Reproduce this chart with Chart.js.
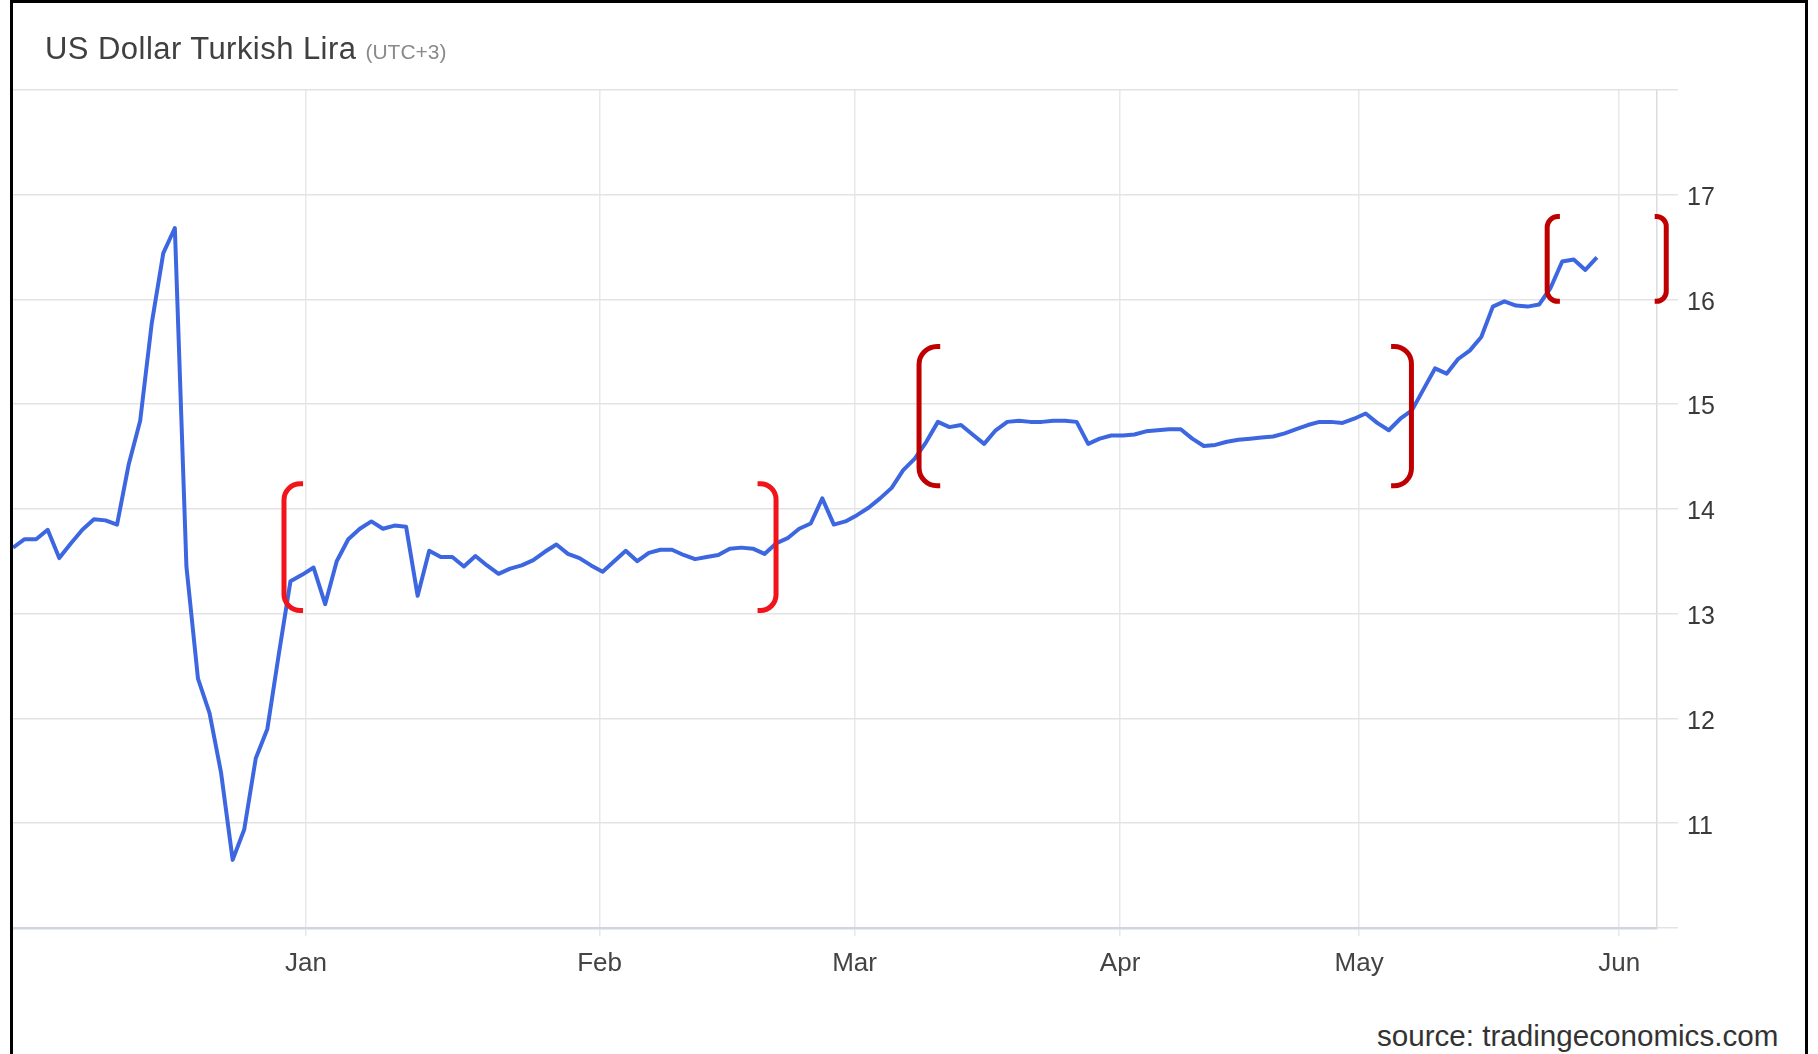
<!DOCTYPE html>
<html>
<head>
<meta charset="utf-8">
<title>US Dollar Turkish Lira</title>
<script src="https://cdn.jsdelivr.net/npm/chart.js@4.4.1/dist/chart.umd.min.js"></script>
<style>
    html, body { margin: 0; padding: 0; background: #fff; overflow: hidden; }
    body { width: 1818px; height: 1054px; position: relative; font-family: "Liberation Sans", Arial, sans-serif; }
    #frame { position: absolute; left: 10px; top: 0; width: 1792px; height: 1090px; border: 3px solid #000; border-bottom: none; }
    #title { position: absolute; left: 32px; top: 30px; font-size: 31px; line-height: 31px; letter-spacing: 0.45px; color: #404040; white-space: nowrap; }
    #title span { font-size: 21px; letter-spacing: 0; color: #8a8a8a; }
    #source { position: absolute; left: 1364px; top: 1018px; font-size: 29.6px; line-height: 30px; color: #333; white-space: nowrap; }
    #chart { position: absolute; left: 0; top: 0; }
</style>
</head>
<body>
<div id="frame">
    <canvas id="chart" width="1792" height="997"></canvas>
    <div id="title">US Dollar Turkish Lira <span>(UTC+3)</span></div>
    <div id="source">source: tradingeconomics.com</div>
</div>
<script>
// USD/TRY daily closes, one value per trading day (late Nov 2021 - end of May 2022)
const usdTry = [
    13.63, 13.71, 13.71, 13.80, 13.53, 13.67, 13.80, 13.90, 13.89, 13.85,
    14.42, 14.84, 15.77, 16.44, 16.68, 13.45, 12.38, 12.05, 11.48, 10.65,
    10.94, 11.62, 11.90, 12.62, 13.31, 13.37, 13.44, 13.09, 13.50, 13.71,
    13.81, 13.88, 13.81, 13.84, 13.83, 13.17, 13.60, 13.54, 13.54, 13.45,
    13.55, 13.46, 13.38, 13.43, 13.46, 13.51, 13.59, 13.66, 13.57, 13.53,
    13.46, 13.40, 13.50, 13.60, 13.50, 13.58, 13.61, 13.61, 13.56, 13.52,
    13.54, 13.56, 13.62, 13.63, 13.62, 13.57, 13.67, 13.72, 13.81, 13.86,
    14.10, 13.85, 13.88, 13.94, 14.01, 14.10, 14.20, 14.37, 14.48, 14.64,
    14.83, 14.78, 14.80, 14.71, 14.62, 14.75, 14.83, 14.84, 14.83, 14.83,
    14.84, 14.84, 14.83, 14.62, 14.67, 14.70, 14.70, 14.71, 14.74, 14.75,
    14.76, 14.76, 14.67, 14.60, 14.61, 14.64, 14.66, 14.67, 14.68, 14.69,
    14.72, 14.76, 14.80, 14.83, 14.83, 14.82, 14.86, 14.91, 14.82, 14.75,
    14.86, 14.94, 15.14, 15.34, 15.29, 15.43, 15.51, 15.64, 15.93, 15.98,
    15.94, 15.93, 15.95, 16.11, 16.36, 16.38, 16.28, 16.40
];

// month labels and where they fall on the trading-day axis
const monthLabels = ['Jan', 'Feb', 'Mar', 'Apr', 'May', 'Jun'];
const monthPositions = [25.35, 50.74, 72.79, 95.76, 116.44, 138.93];

// value axis
const yMin = 10;
const yMax = 18;
const yLabelled = [11, 12, 13, 14, 15, 16, 17];

// red bracket annotations: bar position, hook end (trading-day units), top/bottom (lira)
const bracketBars = [23.44, 66.0, 78.37, 120.96, 132.7, 143.0];
const bracketHooks = [25.09, 64.4, 80.2, 119.2, 133.8, 142.0];
const bracketTops = [14.24, 14.24, 15.55, 15.55, 16.79, 16.79];
const bracketBottoms = [13.03, 13.03, 14.22, 14.22, 15.98, 15.98];
const bracketColors = ['#f2141b', '#f2141b', '#c00000', '#c00000', '#c00000', '#c00000'];

Chart.defaults.font.family = '"Liberation Sans", Arial, sans-serif';

const bracketPlugin = {
    id: 'brackets',
    afterDatasetsDraw(chart) {
        const ctx = chart.ctx;
        const x = chart.scales.x;
        const y = chart.scales.y;
        ctx.save();
        ctx.lineWidth = 5;
        ctx.lineCap = 'butt';
        ctx.lineJoin = 'round';
        bracketBars.forEach(function(bar, i) {
            const bx = x.getPixelForValue(bar);
            const hx = x.getPixelForValue(bracketHooks[i]);
            const top = y.getPixelForValue(bracketTops[i]);
            const bottom = y.getPixelForValue(bracketBottoms[i]);
            const r = Math.abs(hx - bx) * 0.85;
            ctx.strokeStyle = bracketColors[i];
            ctx.beginPath();
            ctx.moveTo(hx, top);
            ctx.arcTo(bx, top, bx, bottom, r);
            ctx.arcTo(bx, bottom, hx, bottom, r);
            ctx.lineTo(hx, bottom);
            ctx.stroke();
        });
        ctx.restore();
    }
};

new Chart(document.getElementById('chart'), {
    type: 'line',
    data: {
        datasets: [{
            label: 'USDTRY',
            data: usdTry.map(function(v, i) { return { x: i, y: v }; }),
            borderColor: '#3d67e0',
            borderWidth: 4,
            pointRadius: 0,
            tension: 0,
            borderJoinStyle: 'round',
            fill: false
        }]
    },
    options: {
        responsive: false,
        animation: false,
        events: [],
        layout: {
            padding: { top: 86.7, left: 0, right: 0, bottom: 0 }
        },
        scales: {
            x: {
                type: 'linear',
                min: 0,
                max: 142.2,
                afterBuildTicks: function(scale) {
                    scale.ticks = monthPositions.map(function(p) { return { value: p }; });
                },
                afterFit: function(scale) { scale.height = 72; },
                ticks: {
                    autoSkip: false,
                    maxRotation: 0,
                    padding: 12,
                    color: '#444',
                    font: { size: 26 },
                    callback: function(value) {
                        const i = monthPositions.indexOf(value);
                        return i >= 0 ? monthLabels[i] : '';
                    }
                },
                grid: {
                    color: '#e8e8e8',
                    lineWidth: 1.5,
                    tickLength: 8
                },
                border: {
                    display: true,
                    color: '#cfd6df',
                    width: 2.5
                }
            },
            y: {
                position: 'right',
                min: yMin,
                max: yMax,
                afterFit: function(scale) { scale.width = 148; },
                ticks: {
                    stepSize: 1,
                    padding: 9,
                    labelOffset: 3.5,
                    color: '#3a3a3a',
                    font: { size: 25 },
                    callback: function(value) {
                        return yLabelled.indexOf(value) >= 0 ? String(value) : '';
                    }
                },
                grid: {
                    color: '#e3e3e3',
                    lineWidth: 1.5,
                    tickLength: 21
                },
                border: {
                    display: true,
                    color: '#dcdcdc',
                    width: 1.5
                }
            }
        },
        plugins: {
            legend: { display: false },
            tooltip: { enabled: false },
            title: { display: false }
        }
    },
    plugins: [bracketPlugin]
});
</script>
</body>
</html>
